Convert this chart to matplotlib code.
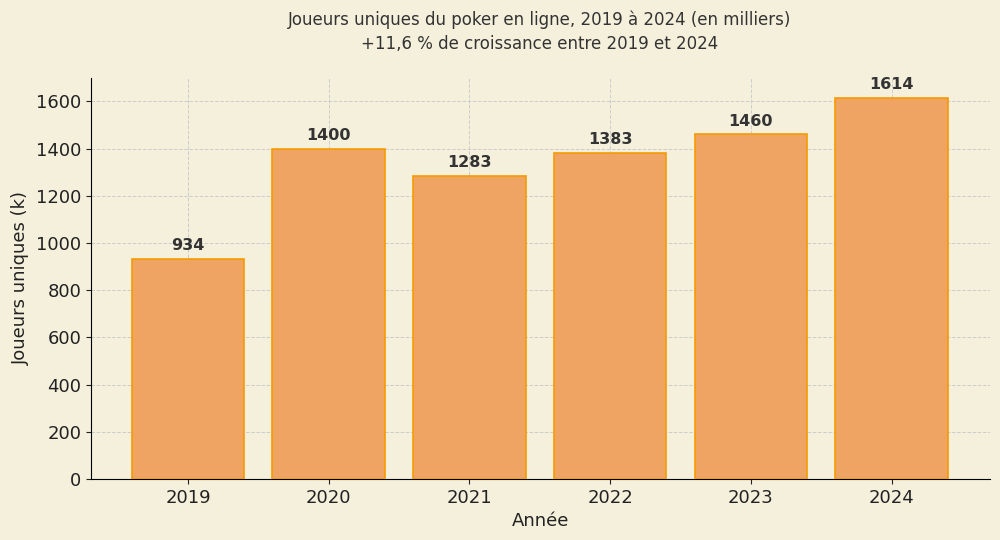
import matplotlib
matplotlib.use("Agg")
import matplotlib.pyplot as plt

years = ["2019", "2020", "2021", "2022", "2023", "2024"]
players = [934, 1400, 1283, 1383, 1460, 1614]

bg = "#f5f0dc"
fig = plt.figure(figsize=(10, 5.4), dpi=100, facecolor=bg)
ax = fig.add_axes([0.091, 0.113, 0.899, 0.743], facecolor=bg)
x = range(len(years))
ax.bar(x, players, width=0.8, color="#f0a463", edgecolor="#f59b00", linewidth=1.2, zorder=3)
for xi, v in zip(x, players):
    ax.text(xi, v + 25, str(v), ha="center", va="bottom", fontsize=11.5, fontweight="bold", color="#333333", zorder=4)
ax.set_xticks(list(x))
ax.set_xticklabels(years)
ax.set_ylim(0, 1700)
ax.set_xlim(-0.69, 5.70)
ax.set_yticks(range(0, 1601, 200))
ax.tick_params(labelsize=13, colors="#222222")
ax.grid(True, linestyle="--", color="#cccccc", linewidth=0.7, zorder=0)
for s in ["top", "right"]:
    ax.spines[s].set_visible(False)
ax.set_xlabel("Année", fontsize=13, color="#222222")
ax.set_ylabel("Joueurs uniques (k)", fontsize=13, color="#222222")
fig.suptitle("Joueurs uniques du poker en ligne, 2019 à 2024 (en milliers)\n+11,6 % de croissance entre 2019 et 2024",
             x=0.54, y=0.98, fontsize=12, color="#333333", linespacing=1.4)
fig.savefig("out.png", facecolor=bg)
